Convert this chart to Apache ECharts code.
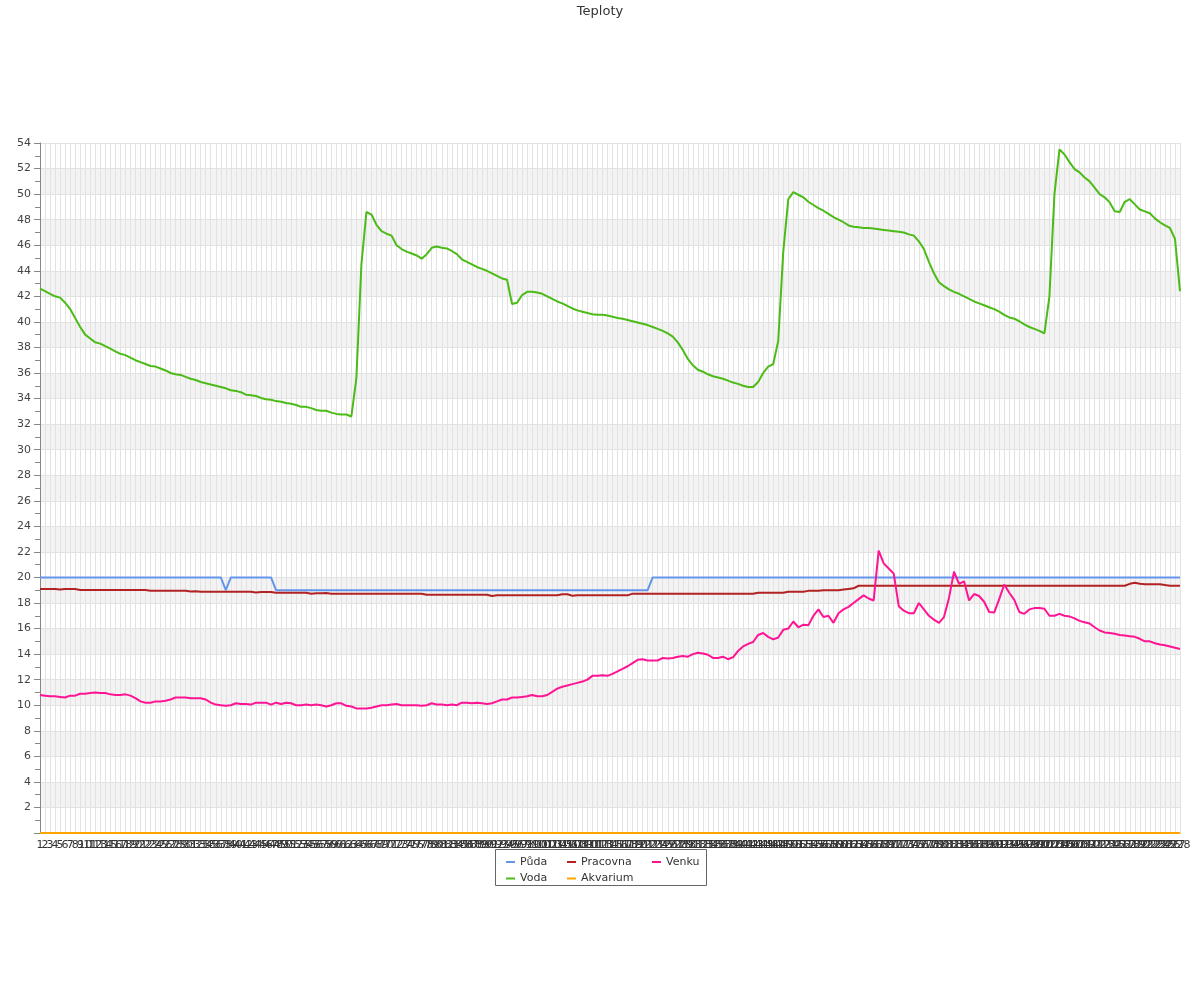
<!DOCTYPE html>
<html>
<head>
<meta charset="utf-8">
<script src="https://cdn.jsdelivr.net/npm/echarts@6/dist/echarts.min.js"></script>
<style>html,body{margin:0;padding:0;background:#fff;}#chart{width:1200px;height:1000px;}</style>
</head>
<body>
<div id="chart"></div>
<script>
var categories = [
1,2,3,4,5,6,7,8,9,10,11,12,13,14,15,16,17,18,19,20,
21,22,23,24,25,26,27,28,29,30,31,32,33,34,35,36,37,38,39,40,
41,42,43,44,45,46,47,48,49,50,51,52,53,54,55,56,57,58,59,60,
61,62,63,64,65,66,67,68,69,70,71,72,73,74,75,76,77,78,79,80,
81,82,83,84,85,86,87,88,89,90,91,92,93,94,95,96,97,98,99,100,
101,102,103,104,105,106,107,108,109,110,111,112,113,114,115,116,117,118,119,120,
121,122,123,124,125,126,127,128,129,130,131,132,133,134,135,136,137,138,139,140,
141,142,143,144,145,146,147,148,149,150,151,152,153,154,155,156,157,158,159,160,
161,162,163,164,165,166,167,168,169,170,171,172,173,174,175,176,177,178,179,180,
181,182,183,184,185,186,187,188,189,190,191,192,193,194,195,196,197,198,199,200,
201,202,203,204,205,206,207,208,209,210,211,212,213,214,215,216,217,218,219,220,
221,222,223,224,225,226,227,228
];

var pudaData = [
20,20,20,20,20,20,20,20,20,20,
20,20,20,20,20,20,20,20,20,20,
20,20,20,20,20,20,20,20,20,20,
20,20,20,20,20,20,20,19,20,20,
20,20,20,20,20,20,20,19,19,19,
19,19,19,19,19,19,19,19,19,19,
19,19,19,19,19,19,19,19,19,19,
19,19,19,19,19,19,19,19,19,19,
19,19,19,19,19,19,19,19,19,19,
19,19,19,19,19,19,19,19,19,19,
19,19,19,19,19,19,19,19,19,19,
19,19,19,19,19,19,19,19,19,19,
19,19,20,20,20,20,20,20,20,20,
20,20,20,20,20,20,20,20,20,20,
20,20,20,20,20,20,20,20,20,20,
20,20,20,20,20,20,20,20,20,20,
20,20,20,20,20,20,20,20,20,20,
20,20,20,20,20,20,20,20,20,20,
20,20,20,20,20,20,20,20,20,20,
20,20,20,20,20,20,20,20,20,20,
20,20,20,20,20,20,20,20,20,20,
20,20,20,20,20,20,20,20,20,20,
20,20,20,20,20,20,20,20
];

var vodaData = [
42.6,42.4,42.2,42.0,41.9,41.5,41.0,40.3,39.6,39.0,
38.7,38.4,38.3,38.1,37.9,37.7,37.5,37.4,37.2,37.0,
36.85,36.7,36.55,36.5,36.35,36.2,36.0,35.9,35.85,35.7,
35.55,35.45,35.3,35.2,35.1,35.0,34.9,34.8,34.65,34.6,
34.5,34.3,34.25,34.2,34.05,33.95,33.9,33.8,33.75,33.65,
33.6,33.5,33.35,33.35,33.25,33.1,33.05,33.05,32.9,32.8,
32.75,32.75,32.6,35.6,44.5,48.6,48.4,47.6,47.1,46.9,
46.75,46.0,45.7,45.5,45.35,45.2,44.95,45.3,45.8,45.9,
45.8,45.75,45.55,45.3,44.9,44.7,44.5,44.3,44.15,44.0,
43.8,43.6,43.4,43.3,41.4,41.5,42.1,42.35,42.35,42.3,
42.2,42.0,41.8,41.6,41.45,41.25,41.05,40.9,40.8,40.7,
40.6,40.55,40.55,40.5,40.4,40.3,40.25,40.15,40.05,39.95,
39.85,39.75,39.6,39.45,39.3,39.1,38.85,38.4,37.8,37.1,
36.6,36.25,36.1,35.9,35.75,35.65,35.55,35.4,35.25,35.15,
35.0,34.9,34.9,35.3,36.0,36.5,36.7,38.5,45.5,49.6,
50.15,49.95,49.75,49.4,49.15,48.9,48.7,48.45,48.2,48.0,
47.8,47.55,47.45,47.4,47.35,47.35,47.3,47.25,47.2,47.15,
47.1,47.05,47.0,46.85,46.75,46.3,45.7,44.7,43.8,43.1,
42.8,42.55,42.35,42.2,42.0,41.8,41.6,41.45,41.3,41.15,
41.0,40.8,40.55,40.35,40.25,40.05,39.8,39.6,39.45,39.3,
39.1,42.0,50.0,53.5,53.1,52.5,51.95,51.7,51.3,51.0,
50.5,50.0,49.75,49.35,48.65,48.6,49.4,49.6,49.2,48.8,
48.65,48.5,48.1,47.8,47.55,47.35,46.5,42.4
];

var pracovnaData = [
19.1,19.1,19.1,19.1,19.05,19.1,19.1,19.1,19.02,19.02,
19.02,19.02,19.02,19.02,19.02,19.02,19.02,19.02,19.02,19.02,
19.02,19.02,18.96,18.96,18.96,18.96,18.96,18.96,18.96,18.96,
18.9,18.92,18.88,18.88,18.88,18.88,18.88,18.88,18.88,18.88,
18.88,18.88,18.88,18.83,18.86,18.86,18.86,18.8,18.8,18.8,
18.8,18.8,18.8,18.8,18.73,18.76,18.76,18.78,18.73,18.73,
18.73,18.73,18.73,18.73,18.73,18.73,18.73,18.73,18.73,18.73,
18.73,18.73,18.73,18.73,18.73,18.73,18.73,18.65,18.65,18.65,
18.65,18.65,18.65,18.65,18.65,18.65,18.65,18.65,18.65,18.65,
18.55,18.6,18.6,18.6,18.6,18.6,18.6,18.6,18.6,18.6,
18.6,18.6,18.6,18.6,18.68,18.68,18.57,18.6,18.6,18.6,
18.6,18.6,18.6,18.6,18.6,18.6,18.6,18.6,18.73,18.73,
18.73,18.73,18.73,18.73,18.73,18.73,18.73,18.73,18.73,18.73,
18.73,18.73,18.73,18.73,18.73,18.73,18.73,18.73,18.73,18.73,
18.73,18.73,18.73,18.8,18.8,18.8,18.8,18.8,18.8,18.88,
18.88,18.88,18.88,18.95,18.95,18.95,19.0,19.0,19.0,19.0,
19.05,19.1,19.15,19.35,19.35,19.35,19.35,19.35,19.35,19.35,
19.35,19.35,19.35,19.35,19.35,19.35,19.35,19.35,19.35,19.35,
19.35,19.35,19.35,19.35,19.35,19.35,19.35,19.35,19.35,19.35,
19.35,19.35,19.35,19.35,19.35,19.35,19.35,19.35,19.35,19.35,
19.35,19.35,19.35,19.35,19.35,19.35,19.35,19.35,19.35,19.35,
19.35,19.35,19.35,19.35,19.35,19.35,19.35,19.5,19.58,19.5,
19.46,19.46,19.46,19.46,19.4,19.35,19.35,19.35
];

var akvariumData = [
0,0,0,0,0,0,0,0,0,0,0,0,0,0,0,0,0,0,0,0,
0,0,0,0,0,0,0,0,0,0,0,0,0,0,0,0,0,0,0,0,
0,0,0,0,0,0,0,0,0,0,0,0,0,0,0,0,0,0,0,0,
0,0,0,0,0,0,0,0,0,0,0,0,0,0,0,0,0,0,0,0,
0,0,0,0,0,0,0,0,0,0,0,0,0,0,0,0,0,0,0,0,
0,0,0,0,0,0,0,0,0,0,0,0,0,0,0,0,0,0,0,0,
0,0,0,0,0,0,0,0,0,0,0,0,0,0,0,0,0,0,0,0,
0,0,0,0,0,0,0,0,0,0,0,0,0,0,0,0,0,0,0,0,
0,0,0,0,0,0,0,0,0,0,0,0,0,0,0,0,0,0,0,0,
0,0,0,0,0,0,0,0,0,0,0,0,0,0,0,0,0,0,0,0,
0,0,0,0,0,0,0,0,0,0,0,0,0,0,0,0,0,0,0,0,
0,0,0,0,0,0,0,0
];

var venkuData = [
10.8,10.75,10.7,10.7,10.65,10.6,10.75,10.75,10.9,10.9,
10.95,11.0,10.95,10.95,10.85,10.8,10.8,10.85,10.75,10.55,
10.3,10.2,10.2,10.3,10.3,10.35,10.45,10.6,10.6,10.6,
10.55,10.55,10.55,10.45,10.2,10.05,10.0,9.95,10.0,10.15,
10.1,10.1,10.05,10.2,10.2,10.2,10.05,10.2,10.1,10.2,
10.15,10.0,10.0,10.05,10.0,10.05,10.0,9.9,10.0,10.15,
10.15,9.95,9.9,9.75,9.75,9.75,9.8,9.9,10.0,10.0,
10.05,10.1,10.0,10.0,10.0,10.0,9.95,10.0,10.15,10.05,
10.05,10.0,10.05,10.0,10.2,10.2,10.15,10.2,10.15,10.1,
10.15,10.3,10.45,10.45,10.6,10.6,10.65,10.7,10.8,10.7,
10.7,10.8,11.05,11.3,11.45,11.55,11.65,11.75,11.85,12.0,
12.3,12.3,12.35,12.3,12.45,12.65,12.85,13.05,13.3,13.55,
13.6,13.5,13.5,13.5,13.7,13.65,13.7,13.8,13.85,13.8,
14.0,14.1,14.05,13.95,13.7,13.7,13.8,13.6,13.75,14.25,
14.6,14.8,14.95,15.5,15.65,15.35,15.15,15.3,15.9,16.0,
16.55,16.1,16.3,16.25,17.0,17.5,16.9,17.0,16.45,17.2,
17.5,17.7,18.0,18.3,18.6,18.35,18.2,22.1,21.1,20.7,
20.3,17.75,17.4,17.2,17.2,18.0,17.5,17.0,16.7,16.45,
16.9,18.4,20.45,19.5,19.7,18.2,18.7,18.55,18.1,17.3,
17.25,18.3,19.45,18.8,18.25,17.3,17.15,17.5,17.6,17.6,
17.55,17.0,17.0,17.15,17.0,16.95,16.8,16.6,16.5,16.4,
16.1,15.85,15.7,15.65,15.6,15.5,15.45,15.4,15.35,15.2,
15.0,15.0,14.85,14.75,14.7,14.6,14.5,14.4
];

var yTicks = { min: 0, max: 54, step: 2 };

var chart = echarts.init(document.getElementById('chart'), null, { renderer: 'canvas' });

function makeSeries(name, data, color) {
  return {
    name: name, type: 'line', data: data,
    symbol: 'none', showSymbol: false,
    lineStyle: { width: 2, color: color },
    itemStyle: { color: color },
    animation: false
  };
}

var legendText = { fontSize: 11, color: '#333', fontFamily: 'DejaVu Sans, sans-serif' };
function makeLegend(names, left) {
  return {
    data: names, orient: 'vertical', left: left, top: 856.5,
    padding: 0, itemGap: 5.5, itemWidth: 9, itemHeight: 2, icon: 'rect',
    textStyle: legendText, selectedMode: false
  };
}

chart.setOption({
  animation: false,
  backgroundColor: '#ffffff',
  title: {
    text: 'Teploty', left: 'center', top: 0,
    textStyle: { fontSize: 13, fontWeight: 'normal', color: '#333', fontFamily: 'DejaVu Sans, sans-serif' }
  },
  legend: [
    makeLegend(['Půda', 'Voda'], 506),
    makeLegend(['Pracovna', 'Akvarium'], 567),
    makeLegend(['Venku'], 652)
  ],
  graphic: [{
    type: 'rect',
    shape: { x: 495.5, y: 849.5, width: 211, height: 36 },
    style: { fill: 'none', stroke: '#666', lineWidth: 1 },
    z: 100
  }],
  grid: { left: 40, right: 20, top: 143, bottom: 167, containLabel: false },
  xAxis: {
    type: 'category', data: categories, boundaryGap: false,
    axisLine: { show: true, lineStyle: { color: '#888' } },
    axisTick: { show: false },
    axisLabel: { interval: 0, fontSize: 11, color: '#333', margin: 7, fontFamily: 'DejaVu Sans, sans-serif' },
    splitLine: { show: true, interval: 0, lineStyle: { color: '#e2e2e2', width: 1 } }
  },
  yAxis: {
    type: 'value', min: yTicks.min, max: yTicks.max, interval: yTicks.step,
    axisLine: { show: true, lineStyle: { color: '#888' } },
    axisTick: { show: true, length: 6, lineStyle: { color: '#888' } },
    minorTick: { show: true, splitNumber: 2, length: 5, lineStyle: { color: '#888' } },
    axisLabel: { showMinLabel: false, fontSize: 11, color: '#444', margin: 9, fontFamily: 'DejaVu Sans, sans-serif' },
    splitLine: { show: true, lineStyle: { color: '#e2e2e2', width: 1 } },
    splitArea: { show: true, areaStyle: { color: ['#ffffff', '#f3f3f3'] } }
  },
  series: [
    makeSeries('Půda', pudaData, '#6495ED'),
    makeSeries('Voda', vodaData, '#4CBB17'),
    makeSeries('Pracovna', pracovnaData, '#B22222'),
    makeSeries('Akvarium', akvariumData, '#FFA500'),
    makeSeries('Venku', venkuData, '#FF1493')
  ]
});
</script>
</body>
</html>
